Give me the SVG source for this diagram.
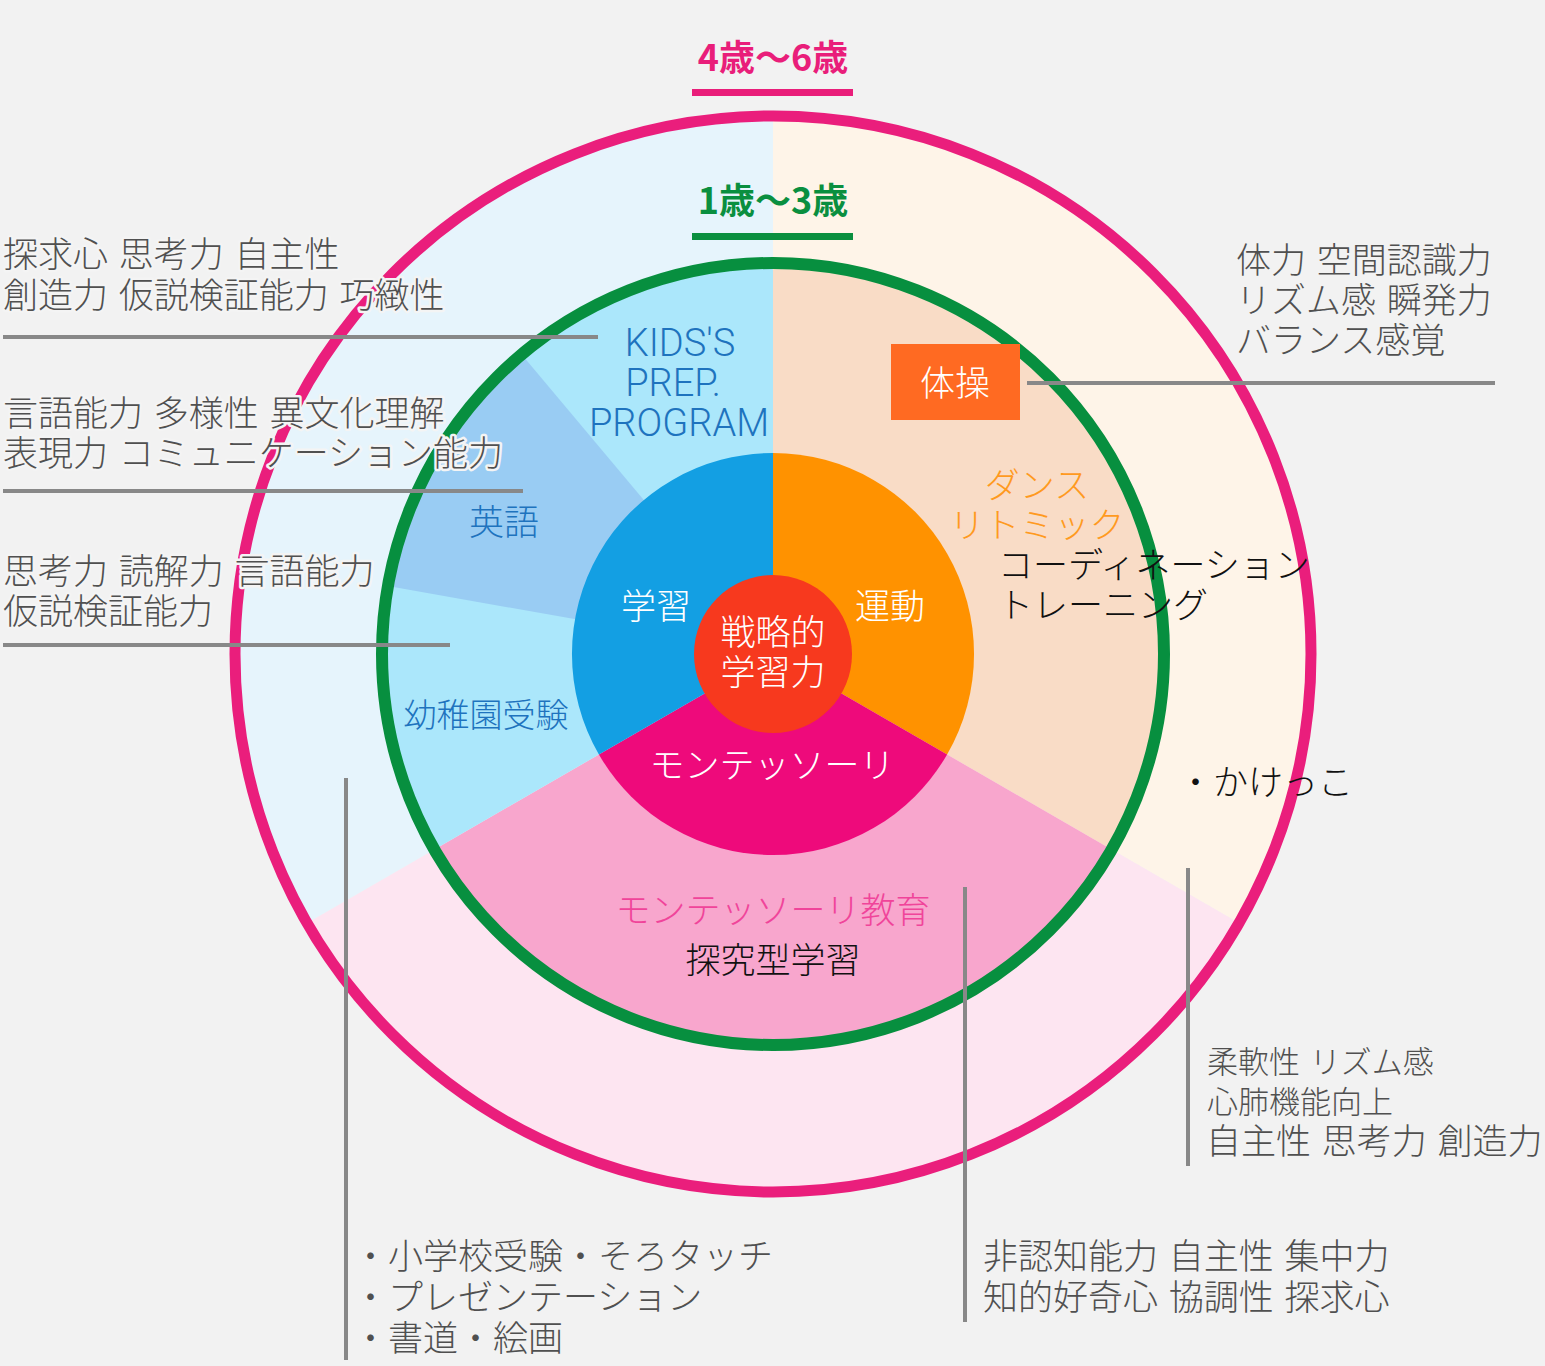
<svg xmlns="http://www.w3.org/2000/svg" width="1545" height="1366" viewBox="0 0 1545 1366">
<style>
.jp{font-family:"Noto Sans CJK JP","Noto Sans",sans-serif;font-size:35px;font-weight:300;word-spacing:3px}
.gray{fill:#505050}
.halo{stroke:#F4F4F4;stroke-width:5;stroke-linejoin:round;paint-order:stroke}
.white{fill:#ffffff}
.blue{fill:#1E73BE}
.mid{text-anchor:middle}
.title{font-family:"Noto Sans CJK JP","Noto Sans",sans-serif;font-size:36px;font-weight:700;text-anchor:middle}
.latin{font-family:Roboto,"Liberation Sans",sans-serif;font-size:38px;font-weight:300;fill:#1E73BE;text-anchor:middle}
.conn{stroke:#888888;stroke-width:4;fill:none}
</style>
<rect x="0" y="0" width="1545" height="1366" fill="#F2F2F2"/>

<g id="outer-ring">
<path d="M773,654 L773,114 A540,540 0 0,1 1240.65,924 Z" fill="#FEF4E8"/>
<path d="M773,654 L1240.65,924 A540,540 0 0,1 305.35,924 Z" fill="#FDE5F1"/>
<path d="M773,654 L305.35,924 A540,540 0 0,1 773,114 Z" fill="#E6F4FC"/>
</g>

<g id="middle-ring">
<path d="M773,654 L773,263 A391,391 0 0,1 1111.6,849.5 Z" fill="#F9DCC6"/>
<path d="M773,654 L1111.6,849.5 A391,391 0 0,1 434.4,849.5 Z" fill="#F8A6CD"/>
<path d="M773,654 L434.4,849.5 A391,391 0 0,1 773,263 Z" fill="#ABE7FB"/>
<path d="M773,654 L387.9,586.1 A391,391 0 0,1 521.7,354.5 Z" fill="#99CCF3"/>
</g>

<g id="inner-ring">
<path d="M773,654 L773,453 A201,201 0 0,1 947.1,754.5 Z" fill="#FF9200"/>
<path d="M773,654 L947.1,754.5 A201,201 0 0,1 598.9,754.5 Z" fill="#EE0A7B"/>
<path d="M773,654 L598.9,754.5 A201,201 0 0,1 773,453 Z" fill="#139FE3"/>
</g>

<g id="circles">
<circle cx="773" cy="654" r="538" fill="none" stroke="#EA1E7C" stroke-width="11"/>
<circle cx="773" cy="654" r="391" fill="none" stroke="#078F3F" stroke-width="12"/>
</g>

<g id="title-4-6">
<text class="title" x="773" y="71" fill="#E91E7A">4歳〜6歳</text>
<rect x="692" y="89" width="161" height="7" fill="#E91E7A"/>
</g>
<g id="title-1-3">
<text class="title" x="773" y="214" fill="#0A8F3F">1歳〜3歳</text>
<rect x="692" y="233" width="161" height="7" fill="#0A8F3F"/>
</g>

<g id="connectors">
<line class="conn" x1="3" y1="337" x2="598" y2="337"/>
<line class="conn" x1="3" y1="491" x2="523" y2="491"/>
<line class="conn" x1="3" y1="645" x2="450" y2="645"/>
<line class="conn" x1="1027" y1="383" x2="1495" y2="383"/>
<line class="conn" x1="346" y1="778" x2="346" y2="1360"/>
<line class="conn" x1="965" y1="887" x2="965" y2="1322"/>
<line class="conn" x1="1188" y1="868" x2="1188" y2="1166"/>
</g>

<g id="center">
<circle cx="773" cy="654" r="79" fill="#F7391E"/>
<text class="jp white mid" x="773" y="645">戦略的</text>
<text class="jp white mid" x="773" y="685">学習力</text>
</g>

<g id="node-gakushu"><text class="jp white mid" x="656" y="619">学習</text></g>
<g id="node-undou"><text class="jp white mid" x="890" y="619">運動</text></g>
<g id="node-montessori"><text class="jp white mid" x="772" y="778">モンテッソーリ</text></g>

<g id="node-kids">
<text class="latin" x="680" y="356">KIDS'S</text>
<text class="latin" x="673" y="396">PREP.</text>
<text class="latin" x="679" y="436">PROGRAM</text>
</g>
<g id="node-eigo"><text class="jp blue mid" x="504" y="535">英語</text></g>
<g id="node-youchien"><text class="jp blue mid" x="486" y="727" style="font-size:33px">幼稚園受験</text></g>

<g id="node-taisou">
<rect x="891" y="344" width="129" height="76" fill="#FF6A22"/>
<text class="jp white mid" x="955" y="396">体操</text>
</g>
<g id="node-dance">
<text class="jp mid" x="1037" y="498" fill="#FF9A1F">ダンス</text>
<text class="jp mid" x="1037" y="538" fill="#FF9A1F">リトミック</text>
</g>
<g id="node-coordination">
<text class="jp" x="998" y="578" fill="#111111">コーディネーション</text>
<text class="jp" x="998" y="618" fill="#111111">トレーニング</text>
</g>
<g id="node-kakekko"><text class="jp" x="1178" y="795" fill="#111111">・かけっこ</text></g>

<g id="node-montessori-edu">
<text class="jp mid" x="773" y="923" fill="#F0449A">モンテッソーリ教育</text>
<text class="jp mid" x="773" y="973" fill="#111111">探究型学習</text>
</g>

<g id="note-kids">
<text class="jp gray halo" x="3" y="267">探求心 思考力 自主性</text>
<text class="jp gray halo" x="3" y="308">創造力 仮説検証能力 巧緻性</text>
</g>
<g id="note-eigo">
<text class="jp gray halo" x="3" y="426">言語能力 多様性 異文化理解</text>
<text class="jp gray halo" x="3" y="466">表現力 コミュニケーション能力</text>
</g>
<g id="note-youchien">
<text class="jp gray halo" x="3" y="584">思考力 読解力 言語能力</text>
<text class="jp gray halo" x="3" y="624">仮説検証能力</text>
</g>
<g id="note-taisou">
<text class="jp gray" x="1236" y="273">体力 空間認識力</text>
<text class="jp gray" x="1236" y="313">リズム感 瞬発力</text>
<text class="jp gray" x="1236" y="353">バランス感覚</text>
</g>
<g id="note-kakekko">
<text class="jp gray" x="1207" y="1073" style="font-size:31px">柔軟性 リズム感</text>
<text class="jp gray" x="1207" y="1113" style="font-size:31px">心肺機能向上</text>
<text class="jp gray" x="1206" y="1154">自主性 思考力 創造力</text>
</g>
<g id="note-montessori">
<text class="jp gray" x="983" y="1269">非認知能力 自主性 集中力</text>
<text class="jp gray" x="983" y="1310">知的好奇心 協調性 探求心</text>
</g>
<g id="note-gakushu">
<text class="jp gray" x="353" y="1269">・小学校受験・そろタッチ</text>
<text class="jp gray" x="353" y="1310">・プレゼンテーション</text>
<text class="jp gray" x="353" y="1351">・書道・絵画</text>
</g>
</svg>
